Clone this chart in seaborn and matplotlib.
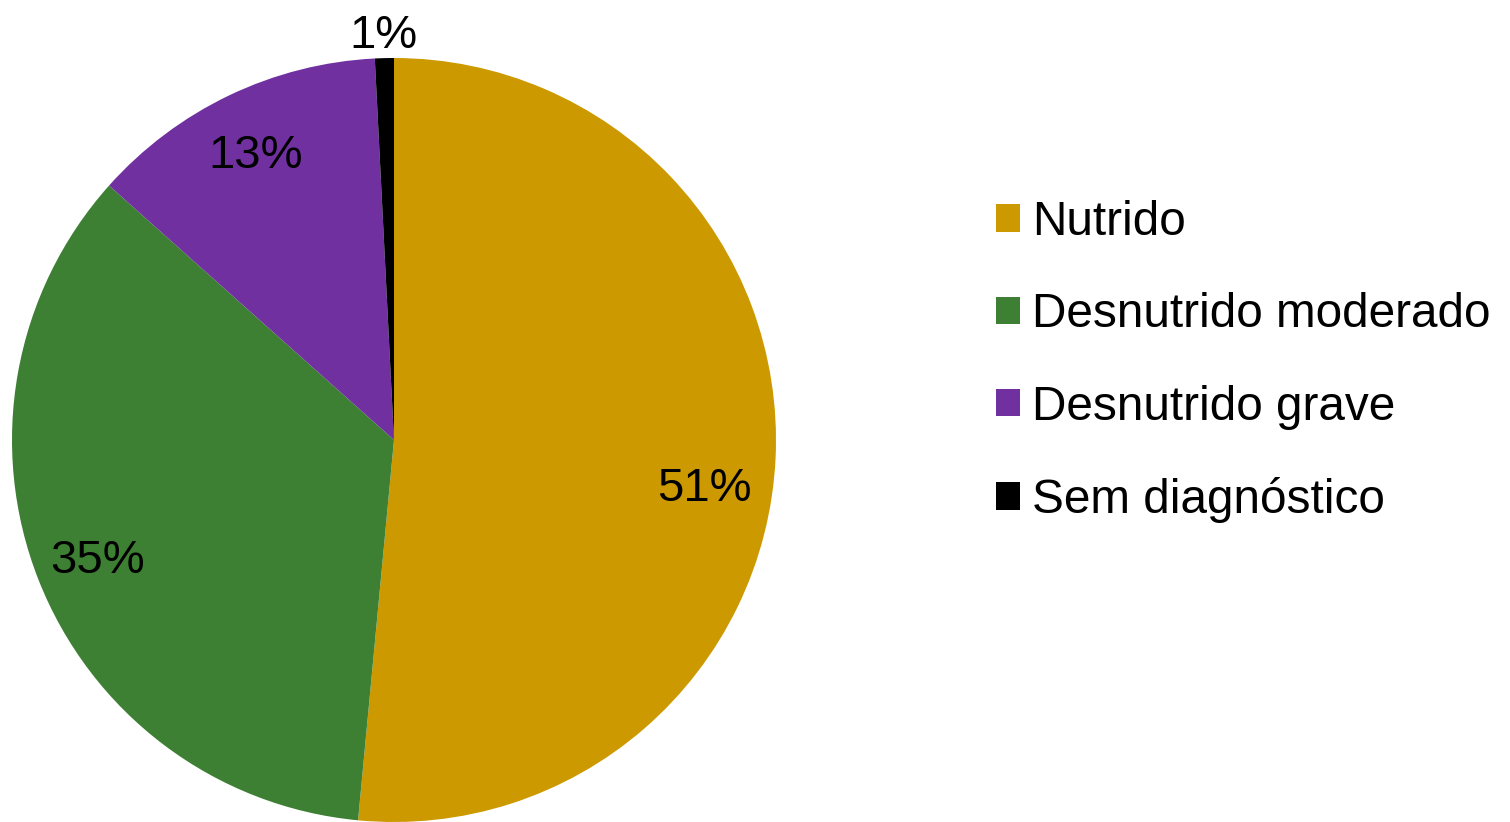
import numpy as np
import matplotlib
matplotlib.use("Agg")
import matplotlib.pyplot as plt
import seaborn as sns

categories = ["Nutrido", "Desnutrido moderado", "Desnutrido grave", "Sem diagnóstico"]
shares = [51.5, 35.1, 12.6, 0.8]
pct_labels = ["51%", "35%", "13%", "1%"]
label_dist = [0.82, 0.835, 0.84, 1.07]
label_turn = [5.4, 0.0, 0.0, 0.0]  # degrees clockwise from mid-angle
colors = ["#CC9900", "#3D8033", "#7030A0", "#000000"]

sns.set_theme(style="white")
plt.rcParams["font.family"] = ["Liberation Sans", "DejaVu Sans"]
plt.rcParams["text.color"] = "black"

fig = plt.figure(figsize=(15.1, 8.22), dpi=100)
ax = fig.add_axes([12 / 1510, 0, 764 / 1510, 764 / 822])

wedges, _ = ax.pie(
    shares,
    colors=colors,
    startangle=90,
    counterclock=False,
    radius=1,
    wedgeprops={"linewidth": 0},
)
ax.set_xlim(-1, 1)
ax.set_ylim(-1, 1)
ax.set_aspect("equal")
ax.axis("off")

for w, txt, d, t in zip(wedges, pct_labels, label_dist, label_turn):
    mid = np.deg2rad((w.theta1 + w.theta2) / 2 - t)
    ax.text(d * np.cos(mid), d * np.sin(mid), txt, ha="center", va="center_baseline",
            fontsize=34, color="black", clip_on=False)

leg = fig.legend(
    wedges,
    categories,
    loc="upper left",
    bbox_to_anchor=(996 / 1510, 1 - 200 / 822),
    frameon=False,
    fontsize=34.4,
    handlelength=0.5,
    handleheight=0.5,
    handletextpad=0.25,
    labelspacing=0.99,
    borderaxespad=0,
    borderpad=0,
)
for t in leg.get_texts():
    t.set_color("black")

fig.savefig("out.png", dpi=100)
